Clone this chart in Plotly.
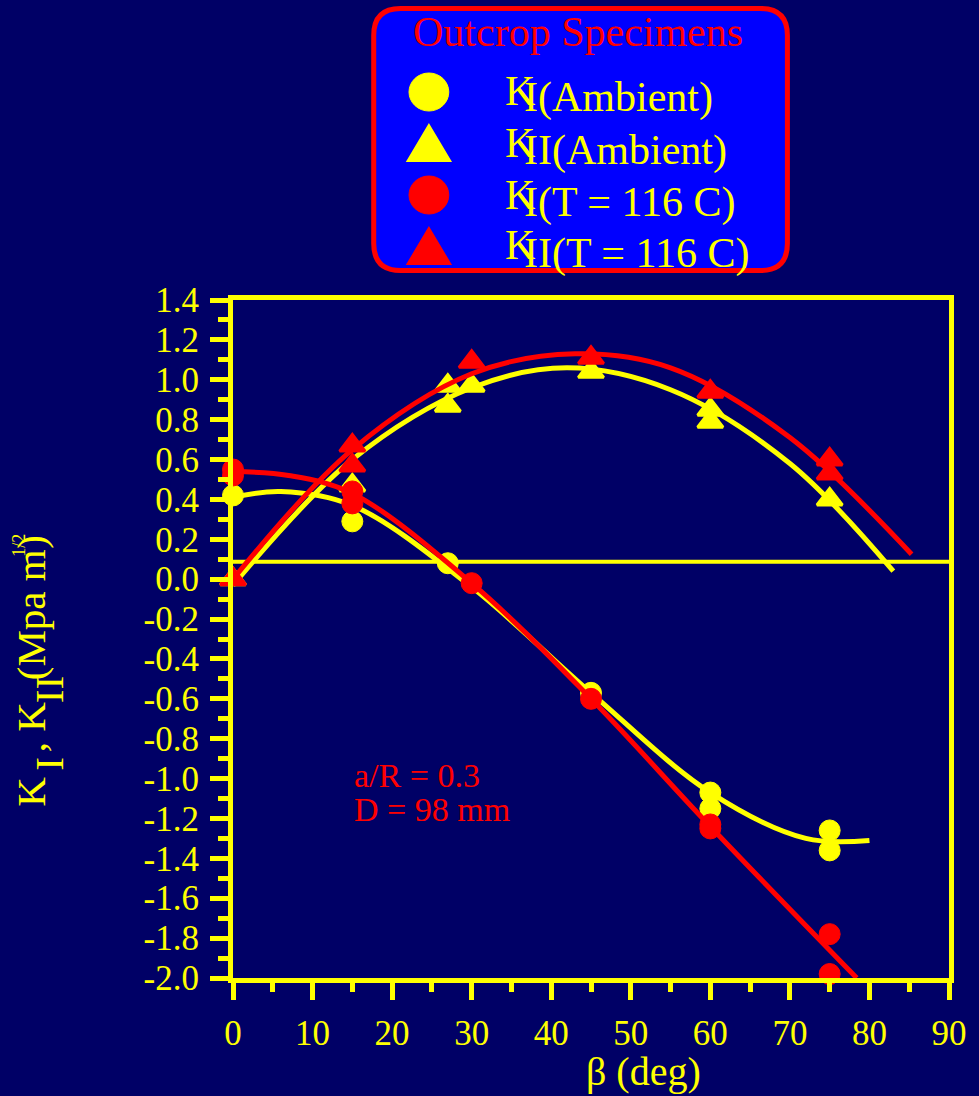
import plotly.graph_objects as go

# ---- measured data --------------------------------------------------------
# K_I, outcrop specimens, ambient temperature
ki_amb_x = [0, 15, 27, 45, 60, 60, 75, 75]
ki_amb_y = [0.42, 0.29, 0.08, -0.57, -1.07, -1.15, -1.26, -1.36]
# K_II, ambient temperature
kii_amb_x = [0, 15, 27, 27, 30, 45, 60, 60, 75]
kii_amb_y = [0.00, 0.47, 0.97, 0.87, 0.97, 1.04, 0.85, 0.79, 0.40]
# K_I, T = 116 C
ki_hot_x = [0, 0, 15, 15, 30, 45, 60, 60, 75, 75]
ki_hot_y = [0.55, 0.52, 0.44, 0.38, -0.02, -0.60, -1.23, -1.25, -1.78, -1.98]
# K_II, T = 116 C
kii_hot_x = [0, 15, 15, 30, 45, 60, 75, 75]
kii_hot_y = [0.00, 0.67, 0.57, 1.09, 1.11, 0.94, 0.60, 0.53]

# ---- fitted trend curves ----------------------------------------------------
ki_amb_fit_x = [0, 6, 15, 30, 45, 60, 72, 80]
ki_amb_fit_y = [0.41, 0.44, 0.37, -0.04, -0.57, -1.07, -1.30, -1.31]
kii_amb_fit_x = [0, 15, 30, 42, 55, 70, 83]
kii_amb_fit_y = [-0.03, 0.60, 0.96, 1.06, 0.95, 0.58, 0.04]
ki_hot_fit_x = [0, 7, 15, 30, 45, 60, 78.4]
ki_hot_fit_y = [0.54, 0.52, 0.43, -0.02, -0.60, -1.24, -2.0]
kii_hot_fit_x = [0, 15, 30, 43, 55, 70, 85.3]
kii_hot_fit_y = [0.00, 0.65, 1.03, 1.13, 1.06, 0.71, 0.125]

# horizontal reference line
ref_level = 0.087

# ---- axis ticks -------------------------------------------------------------
x_ticks = [0, 10, 20, 30, 40, 50, 60, 70, 80, 90]
y_ticks = [-2.0, -1.8, -1.6, -1.4, -1.2, -1.0, -0.8, -0.6, -0.4, -0.2,
           0.0, 0.2, 0.4, 0.6, 0.8, 1.0, 1.2, 1.4]
y_tick_text = [f"{v:.1f}" for v in y_ticks]

# ---- legend entries -----------------------------------------------------------
legend_title = "Outcrop Specimens"
legend_sub = ["I(Ambient)", "II(Ambient)", "I(T = 116 C)", "II(T = 116 C)"]
legend_symbols = ["circle", "triangle", "circle", "triangle"]
legend_colors = ["#FFFF00", "#FFFF00", "#FF0000", "#FF0000"]

note_lines = ["a/R = 0.3", "D = 98 mm"]

# y-axis title pieces: (text, start y in px, baseline x in px, font size)
y_title_parts = [
    ("K", 808, 42, 41),
    ("I", 772, 60, 41),
    (", K", 753, 42, 41),
    ("II", 704, 60, 41),
    ("(Mpa m", 681, 42, 41),
    ("1/2", 558, 22, 18),
    (")", 550, 42, 41),
]

# ---- style -----------------------------------------------------------------
BG = "#000066"
YEL = "#FFFF00"
RED = "#FF0000"
FONT = "Liberation Serif"
ASC = 0.891   # ascent of the serif face, in em

W_FIG, H_FIG = 979, 1096
L, T, W, H = 233, 300, 720, 678   # plot area in pixels


def fx(p):
    """pixel x -> paper x"""
    return (p - L) / W


def fy(p):
    """pixel y -> paper y"""
    return (T + H - p) / H


def text_at(text, x_px, base_px, size, color, xanchor="left"):
    """one line of text with its baseline at base_px"""
    center = base_px - 0.3375 * size
    return dict(text=text, x=fx(x_px), y=fy(center), xref="paper", yref="paper",
                xanchor=xanchor, yanchor="middle", showarrow=False,
                font=dict(family=FONT, size=size, color=color))


def vtext_at(text, start_px, base_px, size, color):
    """text rotated to read upwards, starting at start_px, baseline at base_px"""
    left = base_px - ASC * size - 1
    return dict(text=text, textangle=-90, x=fx(left), y=fy(start_px + 1),
                xref="paper", yref="paper", xanchor="left", yanchor="bottom",
                showarrow=False, font=dict(family=FONT, size=size, color=color))


fig = go.Figure()

fit_line = dict(width=5, shape="spline", smoothing=1.0)

# yellow (ambient) curves and markers
fig.add_trace(go.Scatter(x=kii_amb_fit_x, y=kii_amb_fit_y, mode="lines",
                         line=dict(color=YEL, **fit_line), cliponaxis=False))
fig.add_trace(go.Scatter(x=ki_amb_fit_x, y=ki_amb_fit_y, mode="lines",
                         line=dict(color=YEL, **fit_line), cliponaxis=False))
fig.add_trace(go.Scatter(x=kii_amb_x, y=kii_amb_y, mode="markers", cliponaxis=False,
                         marker=dict(symbol="triangle-up", size=22, color=YEL,
                                     line=dict(color=YEL, width=3))))
fig.add_trace(go.Scatter(x=ki_amb_x, y=ki_amb_y, mode="markers", cliponaxis=False,
                         marker=dict(symbol="circle", size=21, color=YEL,
                                     line=dict(color=YEL, width=1))))

# red (T = 116 C) curves and markers
fig.add_trace(go.Scatter(x=kii_hot_fit_x, y=kii_hot_fit_y, mode="lines",
                         line=dict(color=RED, **fit_line), cliponaxis=False))
fig.add_trace(go.Scatter(x=ki_hot_fit_x, y=ki_hot_fit_y, mode="lines",
                         line=dict(color=RED, **fit_line), cliponaxis=False))
fig.add_trace(go.Scatter(x=kii_hot_x, y=kii_hot_y, mode="markers", cliponaxis=False,
                         marker=dict(symbol="triangle-up", size=22, color=RED,
                                     line=dict(color=RED, width=3))))
fig.add_trace(go.Scatter(x=ki_hot_x, y=ki_hot_y, mode="markers", cliponaxis=False,
                         marker=dict(symbol="circle", size=21, color=RED,
                                     line=dict(color=RED, width=1))))

shapes = []
# horizontal reference line across the plot
shapes.append(dict(type="line", xref="paper", yref="y", x0=0, x1=1,
                   y0=ref_level, y1=ref_level, layer="below",
                   line=dict(color=YEL, width=4)))

# rounded legend box
bx0, bx1, by0, by1, rad = 374.5, 790.5, 8.5, 270.5, 27
rx, ry = rad / W, rad / H
X0, X1, YT, YB = fx(bx0), fx(bx1), fy(by0), fy(by1)
box_path = (f"M {X0 + rx},{YT} L {X1 - rx},{YT} Q {X1},{YT} {X1},{YT - ry} "
            f"L {X1},{YB + ry} Q {X1},{YB} {X1 - rx},{YB} "
            f"L {X0 + rx},{YB} Q {X0},{YB} {X0},{YB + ry} "
            f"L {X0},{YT - ry} Q {X0},{YT} {X0 + rx},{YT} Z")
shapes.append(dict(type="path", xref="paper", yref="paper", path=box_path,
                   fillcolor="#0000FF", line=dict(color=RED, width=5), layer="above"))

# legend symbols
sym_cx = 430
sym_cy = [92, 143, 195, 246]
for sym, col, cy in zip(legend_symbols, legend_colors, sym_cy):
    if sym == "circle":
        r = 20
        shapes.append(dict(type="circle", xref="paper", yref="paper",
                           x0=fx(sym_cx - r), x1=fx(sym_cx + r),
                           y0=fy(cy + r - 1), y1=fy(cy - r + 1),
                           fillcolor=col, line=dict(color=col, width=1)))
    else:
        hw, hh = 21.5, 18
        p = (f"M {fx(sym_cx)},{fy(cy - hh)} L {fx(sym_cx + hw)},{fy(cy + hh)} "
             f"L {fx(sym_cx - hw)},{fy(cy + hh)} Z")
        shapes.append(dict(type="path", xref="paper", yref="paper", path=p,
                           fillcolor=col, line=dict(color=col, width=2)))

annotations = []
annotations.append(text_at(legend_title, 580, 46, 42, RED, xanchor="center"))
k_base = [105, 157, 209, 259]
s_base = [112, 165, 217, 268]
for sub, kb, sb in zip(legend_sub, k_base, s_base):
    annotations.append(text_at("K", 505, kb, 42, YEL))
    annotations.append(text_at(sub, 524, sb, 42, YEL))

# notes inside the plot
annotations.append(text_at(note_lines[0], 353, 787, 34, RED))
annotations.append(text_at(note_lines[1], 353, 821, 34, RED))

# axis titles
annotations.append(text_at("\u03b2 (deg)", 646, 1085, 40, YEL, xanchor="center"))
for txt, start, base, size in y_title_parts:
    annotations.append(vtext_at(txt, start, base, size, YEL))

axis_common = dict(showline=True, linecolor=YEL, linewidth=5, mirror=True,
                   ticks="outside", tickcolor=YEL, tickwidth=5,
                   showgrid=False, zeroline=False,
                   tickfont=dict(family=FONT, size=35, color=YEL))

fig.update_layout(
    width=W_FIG, height=H_FIG,
    margin=dict(l=L, r=W_FIG - L - W, t=T, b=H_FIG - T - H, pad=0),
    paper_bgcolor=BG, plot_bgcolor=BG,
    showlegend=False,
    shapes=shapes, annotations=annotations,
    xaxis=dict(range=[0, 90], tickmode="array", tickvals=x_ticks,
               ticktext=[str(v) for v in x_ticks], ticklen=17,
               ticklabelstandoff=3,
               minor=dict(ticks="outside", ticklen=9, tickwidth=5, tickcolor=YEL,
                          tickmode="linear", tick0=0, dtick=5, showgrid=False),
               **axis_common),
    yaxis=dict(range=[-2.0, 1.4], tickmode="array", tickvals=y_ticks,
               ticktext=y_tick_text, ticklen=18, ticklabelstandoff=4,
               minor=dict(ticks="outside", ticklen=10, tickwidth=5, tickcolor=YEL,
                          tickmode="linear", tick0=0, dtick=0.1, showgrid=False),
               **axis_common),
)

fig.write_html("out.html")
